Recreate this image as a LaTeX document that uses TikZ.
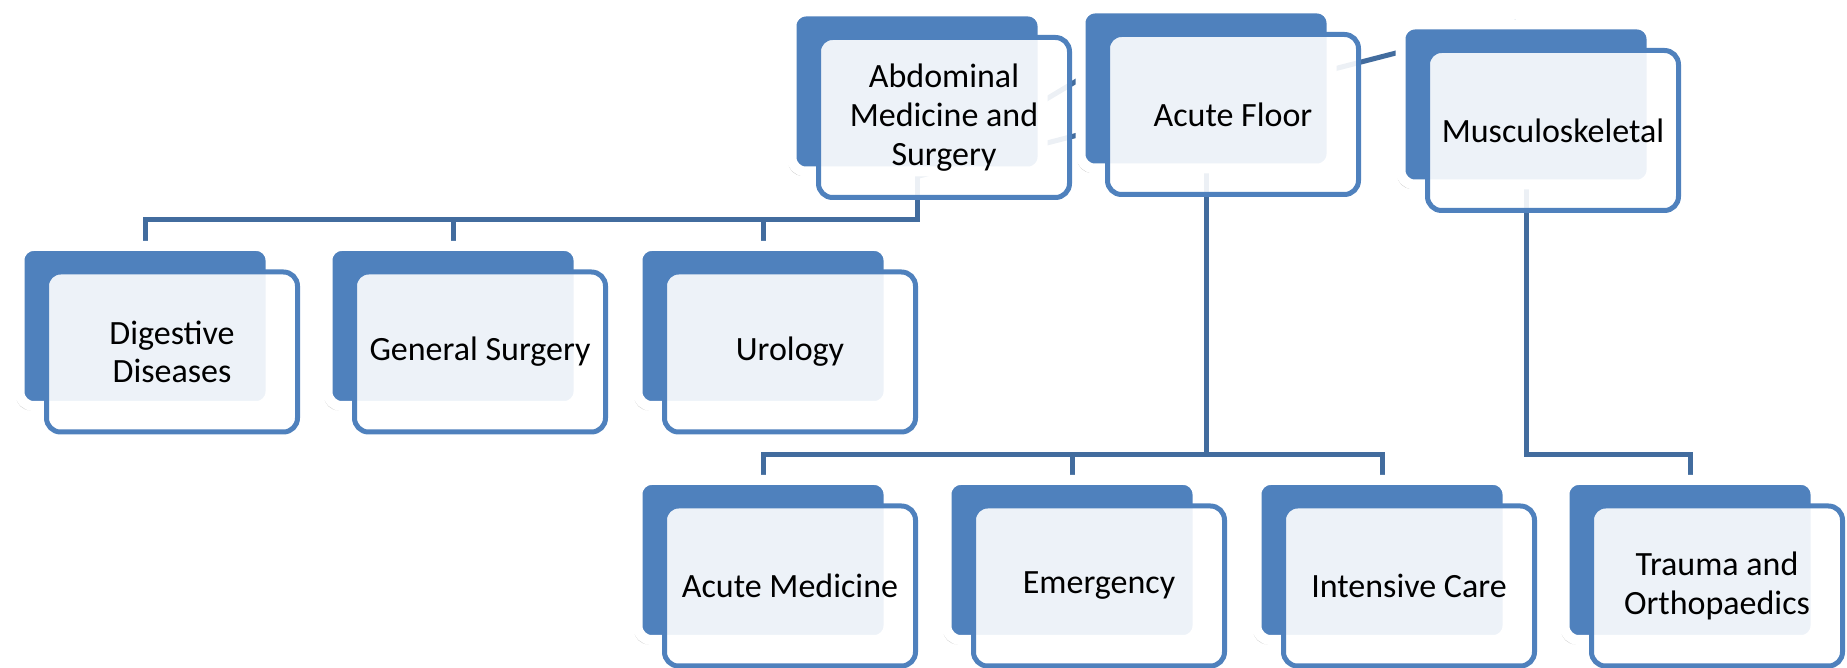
\documentclass[tikz,border=0pt]{standalone}
\usepackage{fontspec}
\setmainfont{Carlito}
\usetikzlibrary{shadows,backgrounds}

\definecolor{boxblue}{RGB}{79,129,189}
\definecolor{linkblue}{RGB}{66,108,158}

\tikzset{every picture/.style={line width=0.75pt}}
\tikzset{
  backbox/.style={draw=white, line width=3pt, fill=boxblue, rounded corners=4.2pt,
    minimum width=75.3pt, minimum height=48pt, inner sep=0pt,
    drop shadow={shadow xshift=-1pt, shadow yshift=-1.3pt, opacity=0.35, fill=black!60}},
  frontbox/.style={draw=boxblue, line width=1.5pt, fill=white, fill opacity=0.9, text opacity=1,
    rounded corners=4.2pt, minimum width=75.3pt, minimum height=48pt, inner sep=2pt,
    align=center, font=\fontsize{10.2}{11.6}\selectfont},
  link/.style={draw=linkblue, line width=1.5pt}
}

\begin{document}
\begin{tikzpicture}[x=0.3pt,y=0.3pt,yscale=-1]
	\useasboundingbox (0,0) rectangle (1847,668);

	% Top row
	\node[backbox] (abd) at (917,91.5) {};
	\node[frontbox] (abdf) at ([shift={(27,26)}]abd.center) {Abdominal\\Medicine and\\Surgery};
	\node[backbox] (acu) at (1206,88.5) {};
	\node[frontbox] (acuf) at ([shift={(27,26)}]acu.center) {Acute Floor};
	\node[backbox] (mus) at (1526,104.5) {};
	\node[frontbox] (musf) at ([shift={(27,26)}]mus.center) {Musculoskeletal};

	% Middle row
	\node[backbox] (dig) at (145,326) {};
	\node[frontbox] (digf) at ([shift={(27,26)}]dig.center) {Digestive\\Diseases};
	\node[backbox] (gen) at (453,326) {};
	\node[frontbox] (genf) at ([shift={(27,26)}]gen.center) {General Surgery};
	\node[backbox] (uro) at (763,326) {};
	\node[frontbox] (urof) at ([shift={(27,26)}]uro.center) {Urology};

	% Bottom row
	\node[backbox] (acm) at (763,560) {};
	\node[frontbox] (acmf) at ([shift={(27,26)}]acm.center) {Acute Medicine};
	\node[backbox] (eme) at (1072,560) {};
	\node[frontbox] (emef) at ([shift={(27,26)}]eme.center) {Emergency};
	\node[backbox] (int) at (1382,560) {};
	\node[frontbox] (intf) at ([shift={(27,26)}]int.center) {Intensive Care};
	\node[backbox] (tra) at (1690,560) {};
	\node[frontbox] (traf) at ([shift={(27,26)}]tra.center) {Trauma and\\Orthopaedics};

	% Connectors, behind the boxes
	\begin{scope}[on background layer]
		\coordinate (abdbus) at (917,220);
		\coordinate (acubus) at (1206,455);
		\coordinate (musbus) at (1526,455);
		\draw[link, shorten >=3pt] (abd.south) -- (acu.north);
		\draw[link, shorten >=3pt] (abd.south) -- (mus.north);
		\draw[link] (abd.south) -- (abdbus) -| (dig.north);
		\draw[link] (abdbus) -| (gen.north);
		\draw[link] (abdbus) -| (uro.north);
		\draw[link] (acu.south) -- (acubus) -| (acm.north);
		\draw[link] (acubus) -| (eme.north);
		\draw[link] (acubus) -| (int.north);
		\draw[link] (mus.south) -- (musbus) -| (tra.north);
	\end{scope}
\end{tikzpicture}
\end{document}
